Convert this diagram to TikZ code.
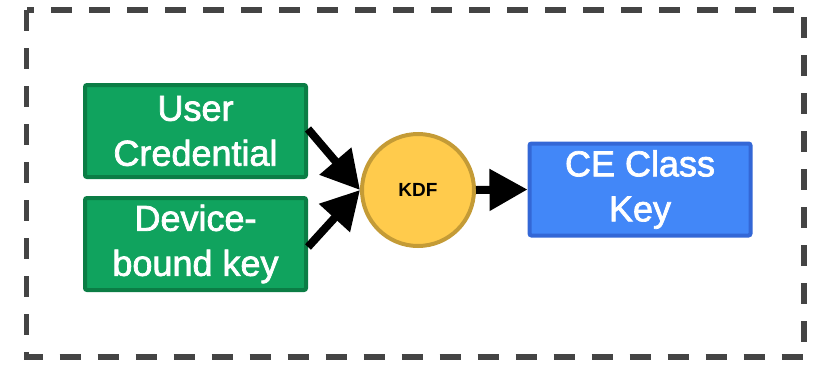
\documentclass[tikz,border=0pt]{standalone}
\usepackage{fontspec}
\setmainfont{Liberation Sans}
\newfontfamily\medfont{Liberation Sans}[FakeBold=2]
\usetikzlibrary{arrows.meta}
\definecolor{gfill}{HTML}{10A35E}
\definecolor{gline}{HTML}{0B7D45}
\definecolor{bfill}{HTML}{4287F8}
\definecolor{bline}{HTML}{3367D6}
\definecolor{yfill}{HTML}{FFCB4C}
\definecolor{yline}{HTML}{C49B36}
\definecolor{frame}{HTML}{444444}
\tikzset{
  greenbox/.style={draw=gline, fill=gfill, line width=4pt, rounded corners=2pt,
    minimum width=221pt, minimum height=92pt, inner sep=0pt, text=white, align=center,
    font=\medfont\fontsize{36}{45}\selectfont},
  bluebox/.style={greenbox, draw=bline, fill=bfill},
  kdfnode/.style={circle, draw=yline, fill=yfill, line width=4pt, minimum size=112pt,
    inner sep=0pt, font=\bfseries\fontsize{19}{22}\selectfont},
  arr/.style={line width=8pt, -{Triangle[length=38pt,width=40pt]}},
  frameline/.style={draw=frame, line width=5.5pt, dash pattern=on 21pt off 17pt}
}
\begin{document}
\begin{tikzpicture}[x=1pt,y=-1pt]
\useasboundingbox (0,0) rectangle (818,364);
\draw[frameline] (26.5,10) rectangle (804,357);
\node[greenbox] (u) at (195.5,131) {User\\Credential};
\node[greenbox] (d) at (195.5,244) {Device-\\bound key};
\node[kdfnode] (kdf) at (418,190) {KDF};
\node[bluebox] (ce) at (640,189.5) {CE Class\\Key};
\draw[arr] ([yshift=2pt]u.east) -- (kdf.west);
\draw[arr] ([yshift=-3pt]d.east) -- (kdf.west);
\draw[arr] (kdf.east) -- (ce.west);
\end{tikzpicture}
\end{document}
